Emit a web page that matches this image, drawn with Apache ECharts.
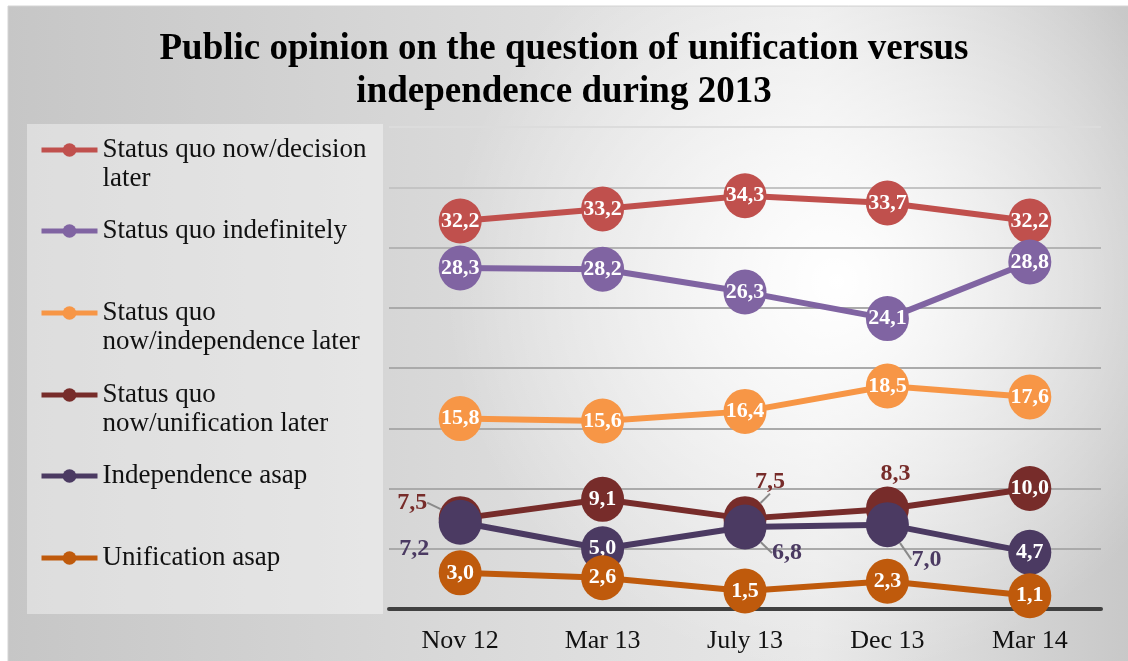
<!DOCTYPE html>
<html>
<head>
<meta charset="utf-8">
<script src="https://cdn.jsdelivr.net/npm/echarts@6/dist/echarts.min.js"></script>
<style>
html,body{margin:0;padding:0;background:#fff;}
#chart{width:1128px;height:661px;}
</style>
</head>
<body>
<div id="chart"></div>
<script>
// ---- data ----
var categories = ['Nov 12', 'Mar 13', 'July 13', 'Dec 13', 'Mar 14'];
var seriesNames = [
  'Status quo now/decision later',
  'Status quo indefinitely',
  'Status quo now/independence later',
  'Status quo now/unification later',
  'Independence asap',
  'Unification asap'
];
var decisionLater     = [32.2, 33.2, 34.3, 33.7, 32.2];
var indefinitely      = [28.3, 28.2, 26.3, 24.1, 28.8];
var independenceLater = [15.8, 15.6, 16.4, 18.5, 17.6];
var unificationLater  = [7.5, 9.1, 7.5, 8.3, 10.0];
var independenceAsap  = [7.2, 5.0, 6.8, 7.0, 4.7];
var unificationAsap   = [3.0, 2.6, 1.5, 2.3, 1.1];
var yTicks = [0, 5, 10, 15, 20, 25, 30, 35, 40];

// ---- styling ----
var colors = ['#c0504d', '#8064a2', '#f79646', '#772c2a', '#4b3a62', '#bf5a0c'];
var legendLabels = [
  'Status quo now/decision\nlater',
  'Status quo indefinitely',
  'Status quo\nnow/independence later',
  'Status quo\nnow/unification later',
  'Independence asap',
  'Unification asap'
];
var legendIconY = [150, 231, 313, 395, 476, 558];
var LH = 29;
// outside label placement (offset from marker centre) for crowded points
var outside = {
  3: {0: {dx: -48, dy: -16, line: true}, 2: {dx: 25, dy: -37, line: true}, 3: {dx: 8, dy: -35, line: false}},
  4: {0: {dx: -46, dy: 27, line: false}, 2: {dx: 42, dy: 26, line: true}, 3: {dx: 39, dy: 35, line: true}}
};
var values = [decisionLater, indefinitely, independenceLater, unificationLater, independenceAsap, unificationAsap];

function fmt(v) { return v.toFixed(1).replace('.', ','); }

var series = values.map(function (arr, s) {
  return {
    name: seriesNames[s],
    type: 'line',
    symbol: 'circle',
    symbolSize: [43, 45],
    color: colors[s],
    lineStyle: {width: 6, color: colors[s]},
    itemStyle: {color: colors[s]},
    emphasis: {disabled: true},
    label: {
      show: true,
      position: 'inside',
      color: '#fff',
      fontFamily: 'Liberation Serif',
      fontWeight: 'bold',
      fontSize: 22,
      formatter: function (p) { return fmt(p.value); }
    },
    labelLine: {show: false, showAbove: true, lineStyle: {color: '#8a8a8a', width: 2}},
    labelLayout: function (p) {
      var o = outside[p.seriesIndex] && outside[p.seriesIndex][p.dataIndex];
      return o ? {dx: o.dx, dy: o.dy} : {};
    },
    data: arr.map(function (v, i) {
      var o = outside[s] && outside[s][i];
      if (!o) return v;
      return {
        value: v,
        label: {color: colors[s], fontSize: 24},
        labelLine: {show: o.line, showAbove: true, lineStyle: {color: '#8a8a8a', width: 2}}
      };
    }),
    z: 2 + s
  };
});

var legends = seriesNames.map(function (n, i) {
  var twoLine = legendLabels[i].indexOf('\n') >= 0;
  return {
    data: [n],
    orient: 'vertical',
    left: 39,
    top: legendIconY[i] - (twoLine ? 1.5 * LH : 0.5 * LH),
    padding: 0,
    itemWidth: 56,
    itemHeight: 17,
    itemGap: 0,
    selectedMode: false,
    lineStyle: {width: 5},
    // leading blank line keeps the first text line level with the icon
    formatter: function () { return twoLine ? ' \n' + legendLabels[i] : legendLabels[i]; },
    textStyle: {
      fontFamily: 'Liberation Serif',
      fontSize: 27,
      color: '#111',
      lineHeight: LH
    }
  };
});

var chart = echarts.init(document.getElementById('chart'), null, {renderer: 'canvas'});
chart.setOption({
  animation: false,
  backgroundColor: '#ffffff',
  graphic: {
    elements: [
      {type: 'rect', z: -100, silent: true,
       shape: {x: 8, y: 6, width: 1122, height: 660},
       style: {
         fill: {type: 'linear', x: 0, y: 0, x2: 1, y2: 0, colorStops: [
           {offset: 0, color: '#c6c6c6'}, {offset: 0.72, color: '#e8e8e8'}, {offset: 1, color: '#c8c8c8'}]},
         stroke: '#d4d4d4', lineWidth: 1
       }},
      {type: 'rect', z: -99, silent: true,
       shape: {x: 8, y: 7, width: 1120, height: 654},
       style: {
         fill: {type: 'radial', x: 0.74, y: 0.42, r: 0.6, colorStops: [
           {offset: 0, color: 'rgba(255,255,255,1)'}, {offset: 1, color: 'rgba(255,255,255,0)'}]}
       }},
      {type: 'rect', z: -98, silent: true,
       shape: {x: 27, y: 124, width: 356, height: 490},
       style: {fill: 'rgba(255,255,255,0.4)'}}
    ]
  },
  title: {
    text: 'Public opinion on the question of unification versus\nindependence during 2013',
    left: 'center',
    top: 23,
    textStyle: {
      fontFamily: 'Liberation Serif',
      fontWeight: 'bold',
      fontSize: 37,
      lineHeight: 43,
      color: '#000'
    }
  },
  legend: legends,
  grid: {left: 389, right: 27, top: 127, bottom: 52, containLabel: false},
  xAxis: {
    type: 'category',
    data: categories,
    boundaryGap: true,
    axisLine: {lineStyle: {color: '#404040', width: 4}},
    axisTick: {show: false},
    axisLabel: {fontFamily: 'Liberation Serif', fontSize: 26, color: '#111', margin: 19}
  },
  yAxis: {
    type: 'value',
    min: yTicks[0],
    max: yTicks[yTicks.length - 1],
    interval: 5,
    axisLine: {show: false},
    axisTick: {show: false},
    axisLabel: {show: false},
    splitLine: {lineStyle: {color: ['#aaaaaa','#aaaaaa','#aaaaaa','#aaaaaa','#aaaaaa','#aaaaaa','#b4b4b4','#c4c4c4','#dcdcdc'], width: 2}}
  },
  series: series
});
</script>
</body>
</html>
